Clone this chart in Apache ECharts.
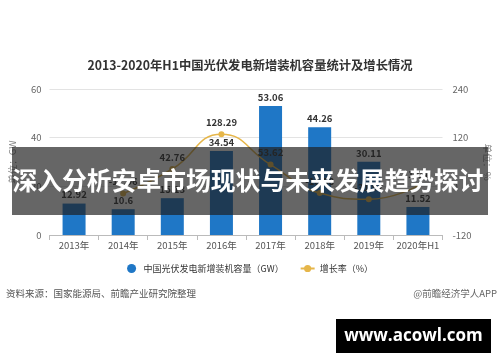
<!DOCTYPE html>
<html><head><meta charset="utf-8">
<script src="https://cdn.jsdelivr.net/npm/echarts@6/dist/echarts.min.js"></script>
<style>html,body{margin:0;padding:0;background:#fff}#c{width:500px;height:362px}</style>
</head><body><div id="c"></div>
<script>
const categories = ['2013年','2014年','2015年','2016年','2017年','2018年','2019年','2020年H1'];
const capacity = [12.92, 10.6, 15.13, 34.54, 53.06, 44.26, 30.11, 11.52];
const growth = ['-', -17.96, 42.76, 128.29, 53.62, -16.58, -31.97, 1.05];
const leftTicks = [0, 20, 40, 60];
const rightTicks = [-120, 0, 120, 240];
const titleText = '2013-2020年H1中国光伏发电新增装机容量统计及增长情况';
const barName = '中国光伏发电新增装机容量（GW）';
const lineName = '增长率（%）';

const font = '"Noto Sans CJK SC","Noto Sans",sans-serif';
const chart = echarts.init(document.getElementById('c'));
chart.setOption({
  animation: false,
  textStyle: {fontFamily: font},
  title: {text: titleText, left: 'center', top: 54, textStyle: {fontSize: 12.3, fontWeight: 'bold', color: '#333', fontFamily: font}},
  grid: {left: 48, right: 57, top: 89, bottom: 127},
  legend: {
    bottom: 84, left: 'center', itemGap: 16, itemWidth: 14, itemHeight: 9,
    textStyle: {fontSize: 9, color: '#333', fontFamily: font},
    data: [{name: barName, icon: 'circle'}, {name: lineName}]
  },
  xAxis: {
    type: 'category', data: categories,
    axisLine: {lineStyle: {color: '#bbb'}},
    axisTick: {show: true, alignWithLabel: false, lineStyle: {color: '#bbb'}},
    axisLabel: {interval: 0, fontSize: 9.5, color: '#555', margin: 6, fontFamily: font}
  },
  yAxis: [
    {type: 'value', min: leftTicks[0], max: leftTicks[leftTicks.length-1], interval: 20,
     name: '单位：GW', nameLocation: 'middle', nameGap: 32, nameRotate: 90,
     nameTextStyle: {fontSize: 9.5, color: '#888', fontFamily: font},
     axisLine: {show: false}, axisTick: {show: false},
     axisLabel: {fontSize: 9.5, color: '#666', margin: 8},
     splitLine: {lineStyle: {color: '#e3e3e3'}}},
    {type: 'value', min: rightTicks[0], max: rightTicks[rightTicks.length-1], interval: 120,
     name: '单位：%', nameLocation: 'middle', nameGap: 38, nameRotate: -90,
     nameTextStyle: {fontSize: 9.5, color: '#888', fontFamily: font},
     axisLine: {show: false}, axisTick: {show: false},
     axisLabel: {fontSize: 9.5, color: '#666', margin: 10},
     splitLine: {show: false}}
  ],
  series: [
    {name: barName, type: 'bar', data: capacity, barWidth: 23, yAxisIndex: 0,
     itemStyle: {color: '#1f77c6'},
     label: {show: true, position: 'top', fontSize: 9.5, fontWeight: 'bold', color: '#333', distance: 4}},
    {name: lineName, type: 'line', data: growth, yAxisIndex: 1, smooth: true,
     symbol: 'circle', symbolSize: 6, connectNulls: false,
     lineStyle: {color: '#e6b64a', width: 1.5}, itemStyle: {color: '#e6b64a'},
     label: {show: true, position: 'top', fontSize: 9.5, fontWeight: 'bold', color: '#333', distance: 4}}
  ],
  graphic: [
    {type: 'text', left: 6, top: 289, style: {text: '资料来源：国家能源局、前瞻产业研究院整理', fontSize: 9.5, fill: '#555', fontFamily: font}},
    {type: 'text', right: 3, top: 289, style: {text: '@前瞻经济学人APP', fontSize: 9.5, fill: '#666', fontFamily: font}},
    {type: 'rect', z: 100, shape: {x: 12, y: 147, width: 476, height: 68}, style: {fill: 'rgba(30,30,30,0.68)'}},
    {type: 'text', z: 101, x: 248, y: 181, style: {text: '深入分析安卓市场现状与未来发展趋势探讨', fontSize: 24.8, fontWeight: 'bold', fill: '#fff', align: 'center', verticalAlign: 'middle', fontFamily: font}},
    {type: 'rect', z: 100, shape: {x: 336, y: 319, width: 155, height: 34}, style: {fill: '#000'}},
    {type: 'text', z: 101, x: 413.5, y: 336, style: {text: 'www.acowl.com', fontSize: 17, fontWeight: 'bold', fill: '#fff', align: 'center', verticalAlign: 'middle', fontFamily: '"Open Sans",sans-serif'}}
  ]
});
</script></body></html>
